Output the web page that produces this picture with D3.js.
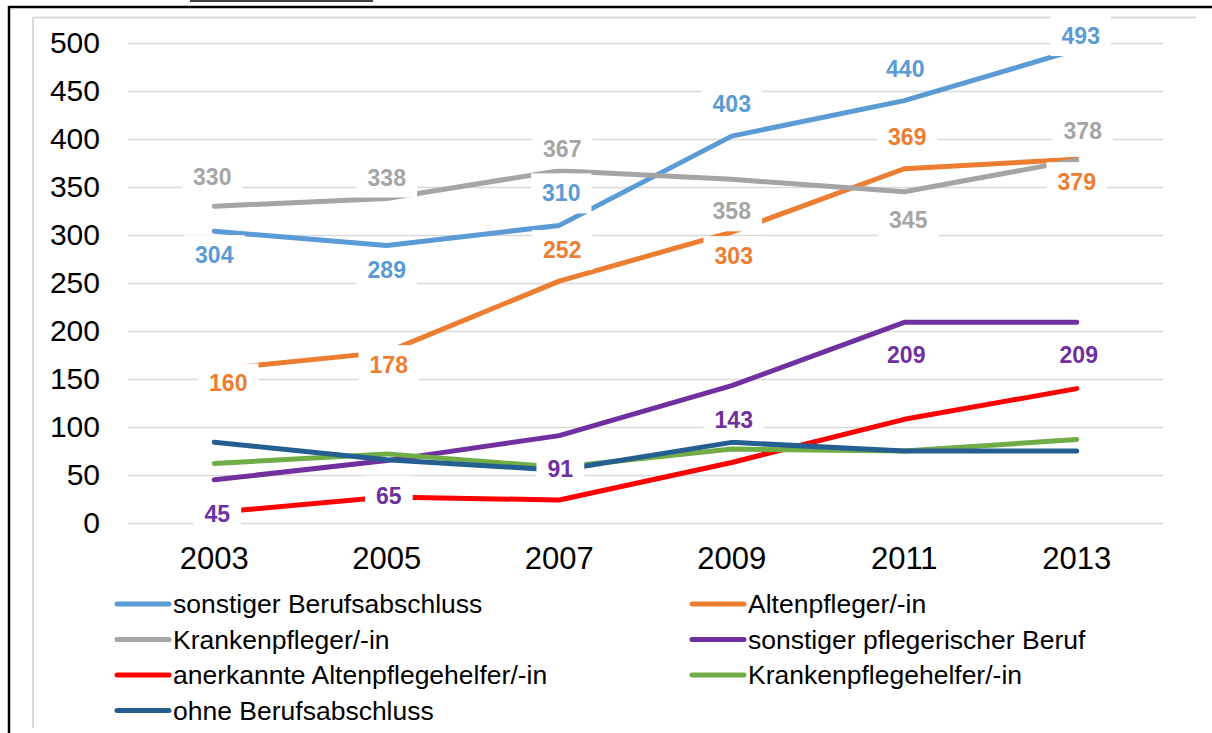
<!DOCTYPE html>
<html>
<head>
<meta charset="utf-8">
<script src="https://cdn.jsdelivr.net/npm/d3@7"></script>
<style>
  body { margin: 0; background: #fff; }
  svg { display: block; font-family: "Liberation Sans", Arial, sans-serif; }
</style>
</head>
<body>
<svg id="chart" width="1212" height="733"></svg>
<script>
// Daten
const years = ["2003", "2005", "2007", "2009", "2011", "2013"];
const yTicks = [0, 50, 100, 150, 200, 250, 300, 350, 400, 450, 500];

const seriesNames = [
  "sonstiger Berufsabschluss",
  "Altenpfleger/-in",
  "Krankenpfleger/-in",
  "sonstiger pflegerischer Beruf",
  "anerkannte Altenpflegehelfer/-in",
  "Krankenpflegehelfer/-in",
  "ohne Berufsabschluss"
];
const sonstigerBerufsabschluss = [304, 289, 310, 403, 440, 493];
const altenpfleger = [160, 178, 252, 303, 369, 379];
const krankenpfleger = [330, 338, 367, 358, 345, 378];
const sonstigerPflegBeruf = [45, 65, 91, 143, 209, 209];
const altenpflegehelfer = [11, 27, 24, 63, 108, 140];
const krankenpflegehelfer = [62, 72, 58, 77, 75, 87];
const ohneBerufsabschluss = [84, 66, 55, 84, 75, 75];

const seriesValues = [
  sonstigerBerufsabschluss, altenpfleger, krankenpfleger, sonstigerPflegBeruf,
  altenpflegehelfer, krankenpflegehelfer, ohneBerufsabschluss
];
const colors = ["#5B9BD5", "#ED7D31", "#A5A5A5", "#7030A0", "#FF0000", "#70AD47", "#255E91"];

// welche Reihen beschriftet sind und Verschiebung der Beschriftung (px, relativ zum Punkt)
const labelled = [0, 1, 2, 3];
const labelShift = [
  [[0, 24], [0, 24], [2, -32], [0, -32], [1, -32], [4, -32]],
  [[14, 14], [2, 13], [3, -31], [2, 24], [3, -32], [0, 23]],
  [[-2, -29], [0, -21], [3, -22], [0, 32], [4, 28], [6, -29]],
  [[3, 34], [2, 35], [1, 33], [2, 34], [2, 33], [2, 33]]
];

const svg = d3.select("#chart");
const margin = { top: 43, left: 128, right: 1163, bottom: 523 };

// Rahmen
svg.append("line").attr("x1", 190).attr("x2", 373).attr("y1", 1).attr("y2", 1)
  .attr("stroke", "#000").attr("stroke-width", 1.5);
svg.append("line").attr("x1", 9).attr("x2", 1212).attr("y1", 7).attr("y2", 7)
  .attr("stroke", "#000").attr("stroke-width", 2.5);
svg.append("line").attr("x1", 9).attr("x2", 9).attr("y1", 6).attr("y2", 733)
  .attr("stroke", "#000").attr("stroke-width", 2.5);
svg.append("line").attr("x1", 33).attr("x2", 1196).attr("y1", 17.5).attr("y2", 17.5)
  .attr("stroke", "#D9D9D9").attr("stroke-width", 2);
svg.append("line").attr("x1", 33).attr("x2", 33).attr("y1", 17).attr("y2", 728)
  .attr("stroke", "#D9D9D9").attr("stroke-width", 2);

// Skalen
const x = d3.scaleBand().domain(years).range([margin.left, margin.right]);
const y = d3.scaleLinear().domain([0, 500]).range([margin.bottom, margin.top]);
const cx = d => x(d) + x.bandwidth() / 2;

// Gitternetz + Y-Achse
const yAxis = svg.append("g")
  .attr("transform", `translate(${margin.left},0)`)
  .call(d3.axisLeft(y).tickValues(yTicks).tickSize(-(margin.right - margin.left)).tickPadding(28));
yAxis.select(".domain").remove();
yAxis.selectAll(".tick line").attr("stroke", "#D9D9D9").attr("stroke-width", 1.5);
yAxis.selectAll(".tick text").attr("font-size", 30).attr("fill", "#000")
  .attr("font-family", "Liberation Sans, Arial, sans-serif");

// X-Achse
const xAxis = svg.append("g")
  .attr("transform", `translate(0,${margin.bottom})`)
  .call(d3.axisBottom(x).tickSize(0).tickPadding(24));
xAxis.select(".domain").remove();
xAxis.selectAll(".tick text").attr("font-size", 31).attr("fill", "#000")
  .attr("font-family", "Liberation Sans, Arial, sans-serif");

// Linien
const line = d3.line().x((d, i) => cx(years[i])).y(d => y(d));
svg.append("g").selectAll("path")
  .data(seriesValues)
  .enter().append("path")
  .attr("d", d => line(d))
  .attr("fill", "none")
  .attr("stroke", (d, i) => colors[i])
  .attr("stroke-width", 5)
  .attr("stroke-linecap", "round")
  .attr("stroke-linejoin", "round");

// Datenbeschriftungen
const labelG = svg.append("g");
labelled.forEach((s, k) => {
  seriesValues[s].forEach((v, i) => {
    const g = labelG.append("g");
    const lx = cx(years[i]) + labelShift[k][i][0];
    const ly = Math.max(36, y(v) + labelShift[k][i][1]);
    const t = g.append("text")
      .attr("x", lx).attr("y", ly)
      .attr("text-anchor", "middle")
      .attr("dominant-baseline", "central")
      .attr("font-size", 23).attr("font-weight", "bold")
      .attr("fill", colors[s])
      .text(v);
    const bb = t.node().getBBox();
    g.insert("rect", "text")
      .attr("x", bb.x - 11).attr("y", ly - 20)
      .attr("width", bb.width + 22).attr("height", 40)
      .attr("fill", "#fff");
  });
});

// Legende
const legend = svg.append("g");
seriesNames.forEach((name, i) => {
  const col = i % 2, row = Math.floor(i / 2);
  const lx = col === 0 ? 117 : 692;
  const ly = 604 + row * 35.5;
  legend.append("line")
    .attr("x1", lx).attr("x2", lx + 52).attr("y1", ly).attr("y2", ly)
    .attr("stroke", colors[i]).attr("stroke-width", 5).attr("stroke-linecap", "round");
  legend.append("text")
    .attr("x", lx + 56).attr("y", ly)
    .attr("dominant-baseline", "central")
    .attr("font-size", 26.5).attr("fill", "#000")
    .text(name);
});
</script>
</body>
</html>
